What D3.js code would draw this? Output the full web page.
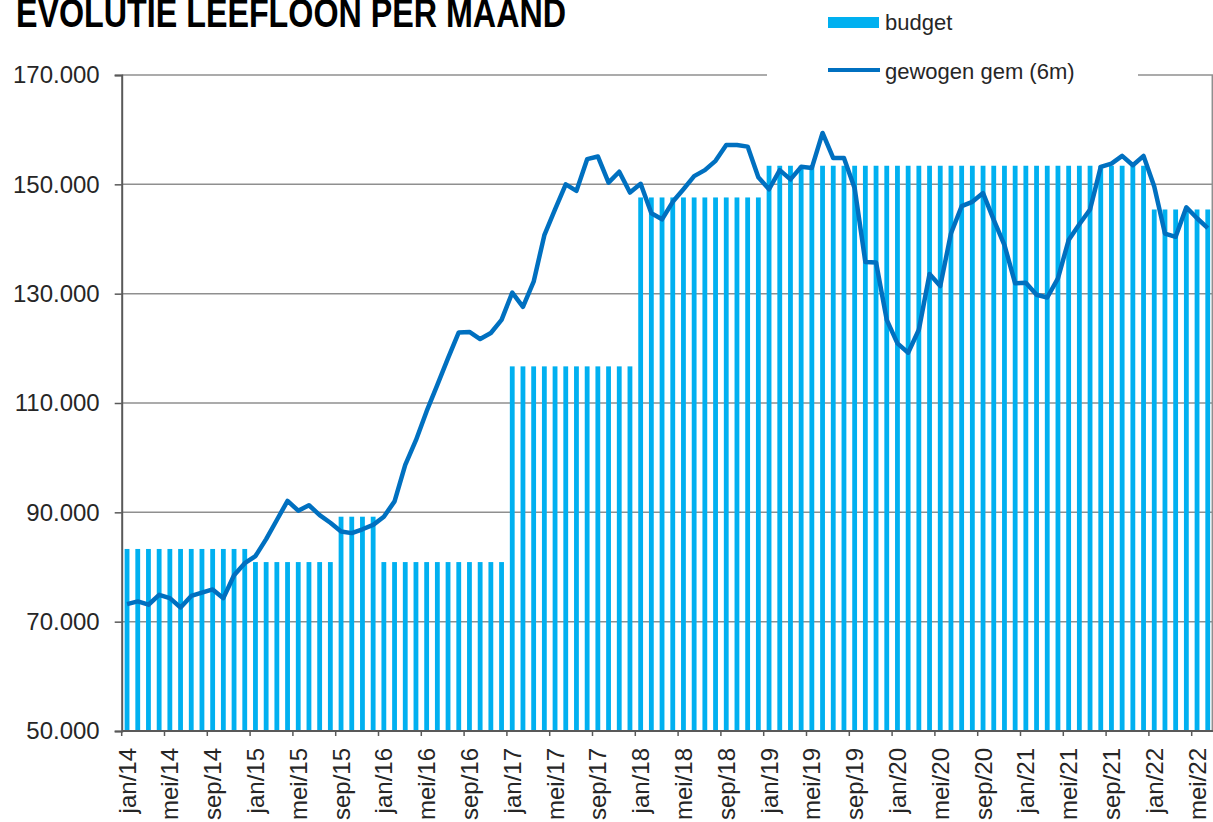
<!DOCTYPE html>
<html>
<head>
<meta charset="utf-8">
<script src="https://cdn.jsdelivr.net/npm/d3@7"></script>
<style>
  body { margin: 0; background: #fff; }
  svg { display: block; font-family: "Liberation Sans", Arial, sans-serif; }
</style>
</head>
<body>
<div class="chart"></div>
<script>
// months jan/14 .. jun/22
var monthNames = ['jan', 'feb', 'mrt', 'apr', 'mei', 'jun', 'jul', 'aug', 'sep', 'okt', 'nov', 'dec']
var years = ['14', '15', '16', '17', '18', '19', '20', '21', '22']
var lastYearMonths = 6

var yTicks = [50000, 70000, 90000, 110000, 130000, 150000, 170000]

// budget per maand
var budget = [
  83300, 83300, 83300, 83300, 83300, 83300, 83300, 83300, 83300, 83300, 83300, 83300,
  80900, 80900, 80900, 80900, 80900, 80900, 80900, 80900, 89200, 89200, 89200, 89200,
  80900, 80900, 80900, 80900, 80900, 80900, 80900, 80900, 80900, 80900, 80900, 80900,
  116700, 116700, 116700, 116700, 116700, 116700, 116700, 116700, 116700, 116700, 116700, 116700,
  147600, 147600, 147600, 147600, 147600, 147600, 147600, 147600, 147600, 147600, 147600, 147600,
  153400, 153400, 153400, 153400, 153400, 153400, 153400, 153400, 153400, 153400, 153400, 153400,
  153400, 153400, 153400, 153400, 153400, 153400, 153400, 153400, 153400, 153400, 153400, 153400,
  153400, 153400, 153400, 153400, 153400, 153400, 153400, 153400, 153400, 153400, 153400, 153400,
  145400, 145400, 145400, 145400, 145400, 145400
]

// gewogen gemiddelde (6m)
var gewogen = [
  73200, 73700, 73100, 74900, 74300, 72600, 74700, 75300, 75900, 74300, 78500, 80700,
  82000, 85100, 88600, 92100, 90300, 91300, 89500, 88100, 86500, 86200, 86900, 87700,
  89200, 92000, 98700, 103200, 108500, 113300, 118200, 122900, 123000, 121700, 122800, 125200,
  130200, 127600, 132200, 140700, 145400, 150000, 148800, 154600, 155100, 150300, 152300, 148500,
  150100, 144700, 143600, 146800, 149100, 151500, 152600, 154300, 157200, 157200, 156900, 151300,
  149100, 152600, 150900, 153200, 153000, 159400, 154800, 154800, 149300, 135800, 135700, 125200,
  120900, 119200, 123400, 133600, 131400, 141000, 146000, 146800, 148400, 143500, 138900, 131900,
  132000, 129800, 129300, 132800, 139800, 142700, 145400, 153200, 153800, 155200, 153500, 155200,
  149600, 141000, 140400, 145800, 143800, 142000
]

var months = []
years.forEach(function(y, yi) {
  var n = yi == years.length - 1 ? lastYearMonths : 12
  for (var m = 0; m < n; m++) months.push(monthNames[m] + '/' + y)
})

var width = 1213
var height = 822
var plotLeft = 121.7, plotRight = 1213.1, plotTop = 75, plotBottom = 731

var svg = d3.select('.chart')
  .append('svg')
  .attr('width', width)
  .attr('height', height)

var x = d3.scaleBand()
  .domain(months)
  .range([plotLeft, plotRight])
  .paddingInner(0.55)
  .paddingOuter(0.275)

var y = d3.scaleLinear()
  .domain([50000, 170000])
  .range([plotBottom, plotTop])

var step = x.step()
var center = function(m) { return x(m) + x.bandwidth() / 2 }
var nl = d3.formatLocale({decimal: ',', thousands: '.', grouping: [3], currency: ['', '']})

// gridlines
svg.append('g')
  .selectAll('line')
  .data(yTicks.filter(function(d) { return d > 50000 }))
  .enter().append('line')
  .attr('x1', plotLeft)
  .attr('x2', plotRight)
  .attr('y1', function(d) { return y(d) })
  .attr('y2', function(d) { return y(d) })
  .style('stroke', '#8f8f8f')
  .style('stroke-width', 1.5)

svg.append('line')
  .attr('x1', plotRight - 0.8).attr('x2', plotRight - 0.8)
  .attr('y1', plotTop).attr('y2', plotBottom)
  .style('stroke', '#8f8f8f')
  .style('stroke-width', 1.5)

// bars
svg.append('g')
  .selectAll('rect')
  .data(budget)
  .enter().append('rect')
  .attr('x', function(d, i) { return x(months[i]) })
  .attr('y', function(d) { return y(d) })
  .attr('width', x.bandwidth())
  .attr('height', function(d) { return y(50000) - y(d) })
  .style('fill', '#00b0f0')

// line
var line = d3.line()
  .x(function(d, i) { return center(months[i]) })
  .y(function(d) { return y(d) })

svg.append('path')
  .datum(gewogen)
  .attr('d', line)
  .style('fill', 'none')
  .style('stroke', '#0070c0')
  .style('stroke-width', 4.5)
  .style('stroke-linejoin', 'round')

// y axis
var yAxis = svg.append('g')
  .attr('transform', 'translate(' + plotLeft + ',0)')
  .call(d3.axisLeft(y).tickValues(yTicks).tickFormat(nl.format(',.0f')).tickSize(7).tickPadding(15))
yAxis.select('.domain').style('stroke', '#595959').style('stroke-width', 2)
yAxis.selectAll('.tick line').style('stroke', '#595959').style('stroke-width', 1.5)
yAxis.selectAll('.tick text')
  .style('font-size', '24px')
  .style('font-family', '"Liberation Sans", Arial, sans-serif')
  .style('fill', '#262626')

// x axis
var xTickMonths = months.filter(function(d, i) { return i % 4 == 0 })

svg.append('line')
  .attr('x1', plotLeft).attr('x2', plotRight)
  .attr('y1', plotBottom).attr('y2', plotBottom)
  .style('stroke', '#595959')
  .style('stroke-width', 2)

svg.append('g')
  .selectAll('line')
  .data(xTickMonths)
  .enter().append('line')
  .attr('x1', function(d) { return x(d) - step * 0.275 })
  .attr('x2', function(d) { return x(d) - step * 0.275 })
  .attr('y1', plotBottom)
  .attr('y2', plotBottom + 5)
  .style('stroke', '#595959')
  .style('stroke-width', 1.5)

svg.append('g')
  .selectAll('text')
  .data(xTickMonths)
  .enter().append('text')
  .attr('transform', function(d) { return 'translate(' + center(d) + ',' + (plotBottom + 17) + ') rotate(-90)' })
  .attr('text-anchor', 'end')
  .attr('dy', '0.36em')
  .style('font-size', '24px')
  .style('fill', '#262626')
  .text(function(d) { return d })

// legend
svg.append('rect')
  .attr('x', 767).attr('y', 0)
  .attr('width', 371).attr('height', 95)
  .style('fill', '#fff')

svg.append('rect')
  .attr('x', 828).attr('y', 17)
  .attr('width', 51).attr('height', 11)
  .style('fill', '#00b0f0')

svg.append('text')
  .attr('x', 885).attr('y', 30)
  .style('font-size', '22px')
  .style('fill', '#262626')
  .text('budget')

svg.append('line')
  .attr('x1', 828).attr('x2', 880)
  .attr('y1', 70).attr('y2', 70)
  .style('stroke', '#0070c0')
  .style('stroke-width', 4)

svg.append('text')
  .attr('x', 885).attr('y', 79)
  .style('font-size', '22px')
  .style('fill', '#262626')
  .text('gewogen gem (6m)')

// title
svg.append('text')
  .attr('x', 16).attr('y', 26.5)
  .attr('textLength', 550)
  .attr('lengthAdjust', 'spacingAndGlyphs')
  .style('font-size', '40px')
  .style('font-weight', 'bold')
  .style('fill', '#000')
  .text('EVOLUTIE LEEFLOON PER MAAND')
</script>
</body>
</html>
